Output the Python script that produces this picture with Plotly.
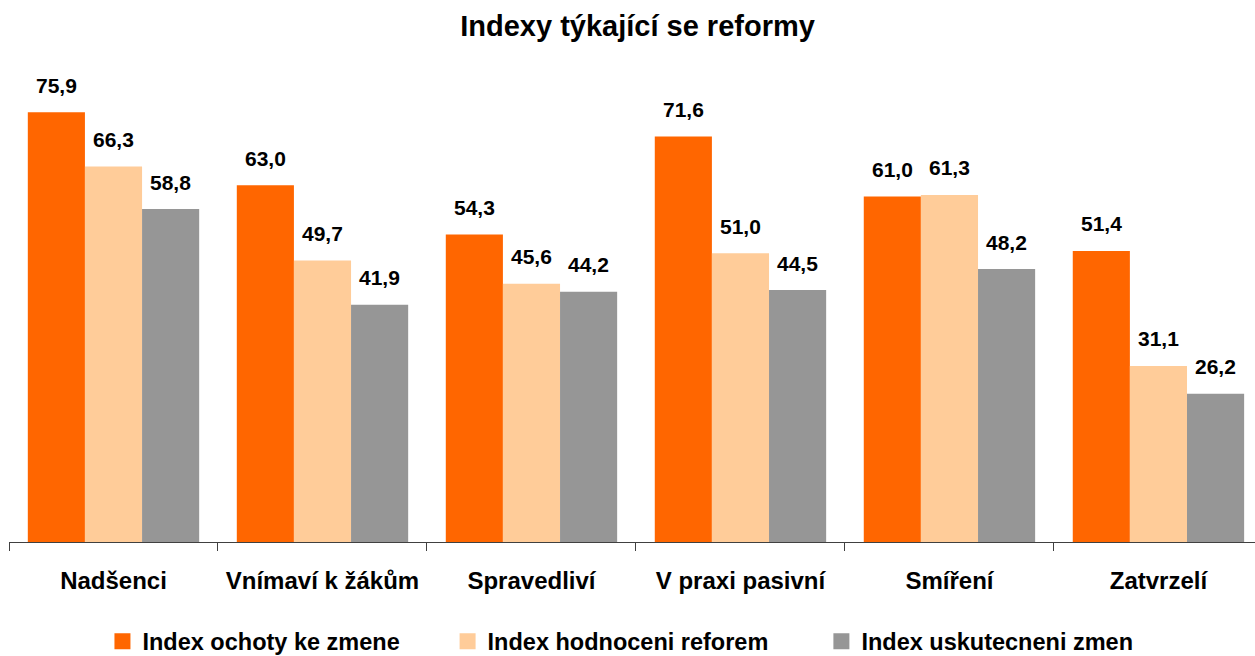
import plotly.graph_objects as go

categories = ["Nadšenci", "Vnímaví k žákům", "Spravedliví", "V praxi pasivní", "Smíření", "Zatvrzelí"]
ochota = [75.9, 63.0, 54.3, 71.6, 61.0, 51.4]
hodnoceni = [66.3, 49.7, 45.6, 51.0, 61.3, 31.1]
uskutecneni = [58.8, 41.9, 44.2, 44.5, 48.2, 26.2]

series = [
    ("Index ochoty ke zmene", ochota, "#FF6600"),
    ("Index hodnoceni reforem", hodnoceni, "#FFCC99"),
    ("Index uskutecneni zmen", uskutecneni, "#969696"),
]

FONT = "Liberation Sans, Arial, sans-serif"
BAR_PX = 57.1  # pixel width of one bar, used to centre value labels
LEGEND_X = [0.075, 0.352, 0.652]  # each series gets its own legend box

fig = go.Figure()
for name, vals, color in series:
    fig.add_trace(go.Bar(name=name, x=categories, y=vals, showlegend=False,
                         marker=dict(color=color, line=dict(width=0))))

# square legend keys (bigger than the default bar swatch)
for i, (name, vals, color) in enumerate(series):
    fig.add_trace(go.Scatter(
        name=name, x=[None], y=[None], mode="markers",
        marker=dict(symbol="square", size=16, color=color),
        legend="legend" if i == 0 else f"legend{i + 1}",
    ))

# value labels above each bar, comma as decimal separator
for i, (name, vals, color) in enumerate(series):
    for cat, v in zip(categories, vals):
        fig.add_annotation(
            x=cat, y=v, xref="x", yref="y",
            text=f"{v:.1f}".replace(".", ","),
            showarrow=False, xshift=(i - 1) * BAR_PX, yshift=27,
            yanchor="middle",
            font=dict(family=FONT, size=21, color="black", weight="bold"),
        )

legend_style = dict(orientation="h", y=-0.2194, yanchor="middle", xanchor="left",
                    bgcolor="rgba(0,0,0,0)", itemsizing="trace",
                    font=dict(family=FONT, size=23.5, color="black", weight="bold"))

fig.update_layout(
    width=1255, height=656,
    margin=dict(l=9, r=0, t=89, b=114, autoexpand=False),
    paper_bgcolor="white", plot_bgcolor="white",
    barmode="group", bargap=0.18, bargroupgap=0,
    title=dict(text="<b>Indexy týkající se reformy</b>", x=0.508, xanchor="center",
               y=0.96, yanchor="middle",
               font=dict(family=FONT, size=29, color="black")),
    showlegend=True,
    legend=dict(x=LEGEND_X[0], **legend_style),
    legend2=dict(x=LEGEND_X[1], **legend_style),
    legend3=dict(x=LEGEND_X[2], **legend_style),
    xaxis=dict(type="category", range=[-0.5, 5.462], showline=True, linecolor="#404040",
               linewidth=1, ticks="outside", tickson="boundaries", ticklen=8,
               tickcolor="#404040", showgrid=False, ticklabelstandoff=17,
               tickfont=dict(family=FONT, size=24, color="black", weight="bold")),
    yaxis=dict(range=[0, 80], visible=False, showgrid=False, zeroline=False),
)

fig.write_html("out.html")
